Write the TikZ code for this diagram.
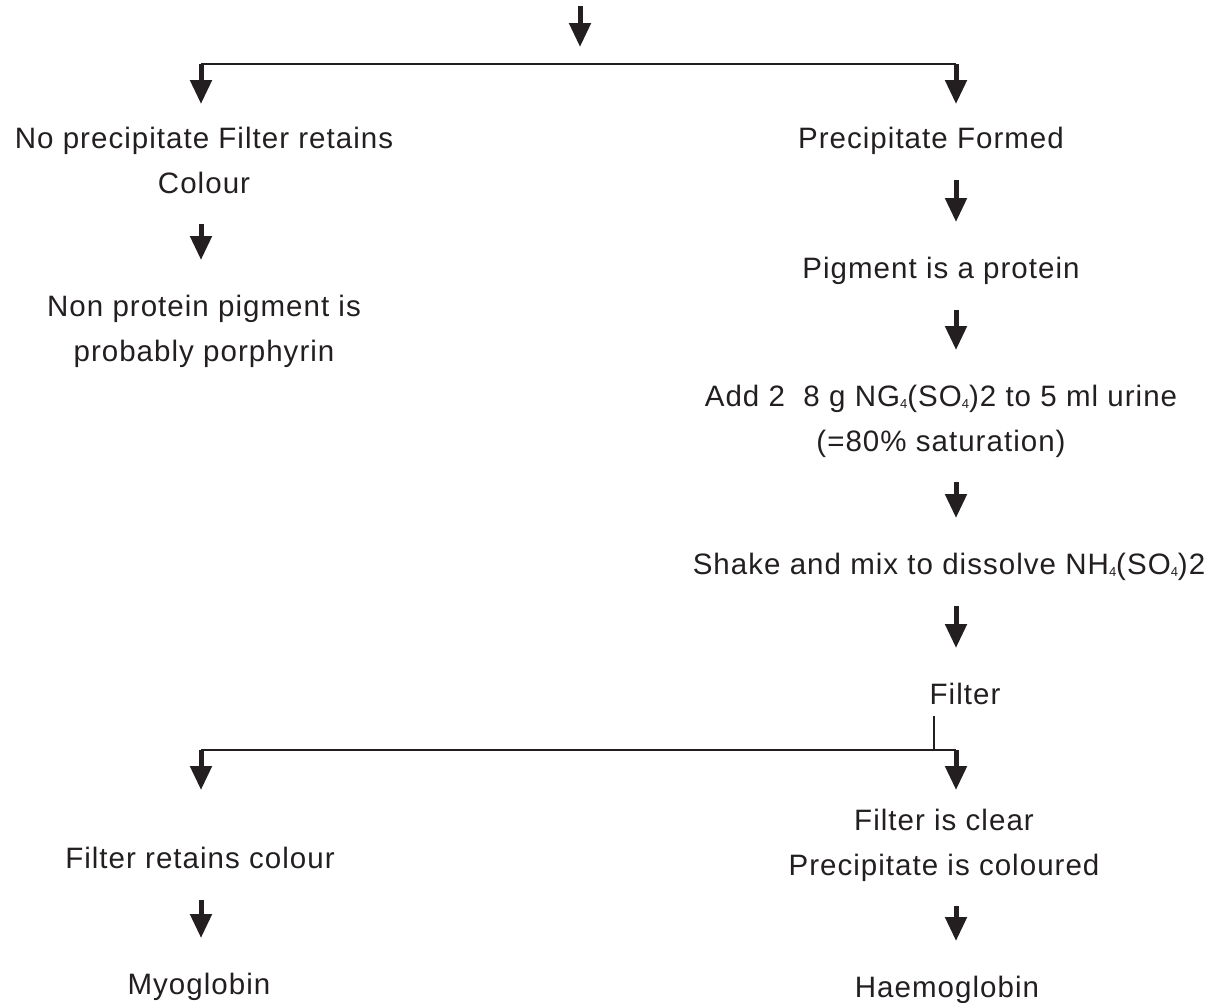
\documentclass[tikz,border=0pt]{standalone}
\usepackage{fontspec}
\setmainfont{Liberation Sans}[LetterSpace=3.5]
\usetikzlibrary{arrows.meta, positioning}
\definecolor{ink}{RGB}{35,31,32}
\newcommand{\chemsub}[1]{\raisebox{-1pt}{\fontsize{6.5}{7}\selectfont #1}}

\begin{document}
\begin{tikzpicture}[
    x=0.5pt, y=-0.5pt,
    color=ink,
    step_node/.style={
        anchor=north,
        align=center,
        inner sep=0pt,
        font=\fontsize{14.75}{22.5}\selectfont,
        execute at begin node={\vrule width 0pt height 0.73em depth 0pt},
        execute at end node={\vrule width 0pt height 0pt depth 0.21em}
    },
    arrow/.style={
        line width=2.5pt,
        -{Triangle[length=12pt, width=10.5pt]}
    },
    step_arrow/.style={
        arrow,
        shorten <=12pt,
        shorten >=17.5pt
    },
    branch/.style={
        line width=0.8pt
    }
]
\useasboundingbox (0,0) rectangle (1224,1002);

\node (noppt) [step_node] at (204,127) {No precipitate Filter retains\\Colour};
\node (nonprot) [step_node] at (204,295) {Non protein pigment is\\probably porphyrin};
\node (pform) [step_node] at (931,127) {Precipitate Formed};
\node (pprot) [step_node] at (941,257) {Pigment is a protein};
\node (addsalt) [step_node] at (941,385) {Add 2\ \ 8 g NG\chemsub{4}(SO\chemsub{4})2 to 5 ml urine\\(=80\% saturation)};
\node (shake) [step_node] at (949,553) {Shake and mix to dissolve NH\chemsub{4}(SO\chemsub{4})2};
\node (filt) [step_node] at (965,683) {Filter};
\node (fclear) [step_node] at (944,809) {Filter is clear\\Precipitate is coloured};
\node (fcolour) [step_node] at (200,847) {Filter retains colour};
\node (myo) [step_node] at (199,973) {Myoglobin};
\node (haemo) [step_node] at (947,976) {Haemoglobin};

\coordinate (entry) at (580,6);
\coordinate (fork1) at (580,64);
\coordinate (fork1L) at (201,64);
\coordinate (fork1R) at (956,64);
\coordinate (fork2M) at (934,750);
\coordinate (fork2L) at (201,750);
\coordinate (fork2R) at (956,750);

\draw [arrow, shorten >=8.5pt] (entry) -- (fork1);
\draw [branch] (fork1L) -- (fork1R);
\draw [arrow, shorten >=11.5pt] (fork1L) -- (noppt.north -| fork1L);
\draw [arrow, shorten >=11.5pt] (fork1R) -- (pform.north -| fork1R);
\draw [step_arrow] (noppt.south -| fork1L) -- (nonprot.north -| fork1L);
\draw [step_arrow] (pform.south -| fork1R) -- (pprot.north -| fork1R);
\draw [step_arrow] (pprot.south -| fork1R) -- (addsalt.north -| fork1R);
\draw [step_arrow] (addsalt.south -| fork1R) -- (shake.north -| fork1R);
\draw [step_arrow] (shake.south -| fork1R) -- (filt.north -| fork1R);
\draw [branch, shorten <=2pt] (filt.south -| fork2M) -- (fork2M);
\draw [branch] (fork2L) -- (fork2R);
\draw [arrow, shorten >=28.5pt] (fork2L) -- (fcolour.north -| fork2L);
\draw [arrow, shorten >=9.5pt] (fork2R) -- (fclear.north -| fork2R);
\draw [step_arrow] (fcolour.south -| fork2L) -- (myo.north -| fork2L);
\draw [step_arrow] (fclear.south -| fork2R) -- (haemo.north -| fork2R);

\end{tikzpicture}
\end{document}
